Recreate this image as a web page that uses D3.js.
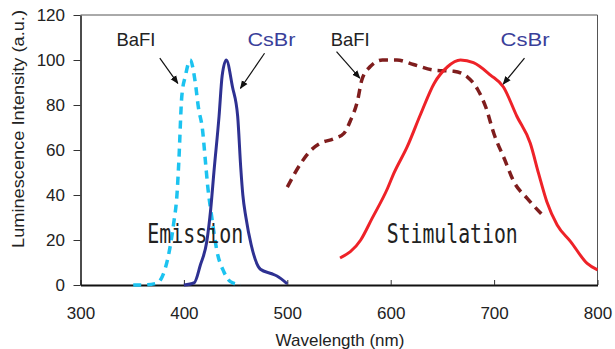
<!DOCTYPE html>
<html>
<head>
<meta charset="utf-8">
<script src="https://cdn.jsdelivr.net/npm/d3@7"></script>
<style>
  body { margin: 0; background: #fff; }
  svg { display: block; }
  .axis text { font-family: "Liberation Sans", Arial, sans-serif; font-size: 17px; fill: #222; }
</style>
</head>
<body>
<div id="chart"></div>
<script>
// emission spectra
var csbrEmWl  = [400, 410, 416, 422, 426, 429, 434, 437, 441, 447, 452, 455, 457, 460, 465, 474, 485, 490, 500];
var csbrEmInt = [0, 1, 9, 19, 34, 50, 75, 93, 100, 88, 75, 52, 40, 30, 18, 7, 5, 4, 0.5];
var bafiEmWl  = [351, 360, 373, 379, 385, 390, 393.5, 395, 398, 401.5, 406, 411, 414, 418, 421, 423, 427, 432, 438.5, 445, 455];
var bafiEmInt = [0, 0, 0.7, 3.7, 13, 27, 41.5, 54, 84, 93, 100, 90, 79, 69, 54, 44, 30, 15, 6, 1.5, 0];

// stimulation spectra
var bafiStWl  = [500, 513, 521, 532, 545, 555, 561, 568, 572, 580, 592, 606, 622, 642, 661, 674, 684, 692, 700, 710, 719, 732, 747];
var bafiStInt = [43.5, 54, 59, 63, 65, 67.5, 73, 82, 91, 97, 100, 100, 98, 95.5, 95, 92.5, 87, 79, 67, 56, 46, 38.5, 31];
var csbrStWl  = [551, 571, 582, 597, 603, 616, 629, 642, 655, 667.5, 680, 696.5, 709, 722, 735, 743, 751, 761, 774, 790, 800];
var csbrStInt = [12, 20, 29.6, 43, 49.6, 61.5, 76, 89.6, 97, 100, 98.8, 93.3, 88, 75, 63, 49.6, 37, 26.7, 19.3, 9.6, 6.7];

var xTicks = [300, 400, 500, 600, 700, 800];
var yTicks = [0, 20, 40, 60, 80, 100, 120];

var width = 615, height = 349;
var margin = {top: 15, right: 17.5, bottom: 64, left: 80.5};

var svg = d3.select('#chart').append('svg')
    .attr('width', width)
    .attr('height', height);

var x = d3.scaleLinear().domain([300, 800]).range([margin.left, width - margin.right]);
var y = d3.scaleLinear().domain([0, 120]).range([height - margin.bottom, margin.top]);

// frame (top + right)
svg.append('path')
    .attr('d', 'M' + x(300) + ',' + y(120) + 'H' + x(800) + 'V' + y(0))
    .attr('fill', 'none')
    .attr('stroke', '#555')
    .attr('stroke-width', 1);

var xAxis = d3.axisBottom(x).tickValues(xTicks).tickSize(-5).tickSizeOuter(0).tickPadding(22);
var yAxis = d3.axisLeft(y).tickValues(yTicks).tickSize(7).tickSizeOuter(0).tickPadding(8.5);

var gx = svg.append('g')
    .attr('class', 'axis')
    .attr('transform', 'translate(0,' + y(0) + ')')
    .call(xAxis);
gx.select('.domain').attr('stroke', '#111').attr('stroke-width', 2);
gx.selectAll('.tick line').attr('stroke', '#333');

var gy = svg.append('g')
    .attr('class', 'axis')
    .attr('transform', 'translate(' + x(300) + ',0)')
    .call(yAxis);
gy.select('.domain').attr('stroke', '#111').attr('stroke-width', 1.5);
gy.selectAll('.tick line').attr('stroke', '#333');

svg.append('text')
    .attr('x', 340).attr('y', 346)
    .attr('text-anchor', 'middle')
    .attr('font-family', '"Liberation Sans", Arial, sans-serif')
    .attr('font-size', 17).attr('fill', '#222')
    .text('Wavelength (nm)');

svg.append('text')
    .attr('transform', 'translate(24,129) rotate(-90)')
    .attr('text-anchor', 'middle')
    .attr('textLength', 238)
    .attr('lengthAdjust', 'spacingAndGlyphs')
    .attr('font-family', '"Liberation Sans", Arial, sans-serif')
    .attr('font-size', 17).attr('fill', '#222')
    .text('Luminescence Intensity (a.u.)');

var line = d3.line()
    .x(function(d) { return x(d[0]); })
    .y(function(d) { return y(d[1]); })
    .curve(d3.curveMonotoneX);

var series = [
    {wl: bafiEmWl, v: bafiEmInt, color: '#1cc3f0', w: 3.5, dash: '8,6'},
    {wl: csbrEmWl, v: csbrEmInt, color: '#2e3192', w: 3, dash: null},
    {wl: bafiStWl, v: bafiStInt, color: '#7f1d1d', w: 3.5, dash: '9,6'},
    {wl: csbrStWl, v: csbrStInt, color: '#ee2228', w: 3, dash: null}
];

series.forEach(function(s) {
    var pts = s.wl.map(function(w, i) { return [w, s.v[i]]; });
    svg.append('path')
        .datum(pts)
        .attr('d', line)
        .attr('fill', 'none')
        .attr('stroke', s.color)
        .attr('stroke-width', s.w)
        .attr('stroke-linejoin', 'round')
        .attr('stroke-dasharray', s.dash);
});

// labels and arrows
var defs = svg.append('defs');
defs.append('marker')
    .attr('id', 'arr')
    .attr('viewBox', '0 0 10 10')
    .attr('refX', 9).attr('refY', 5)
    .attr('markerWidth', 7).attr('markerHeight', 7)
    .attr('orient', 'auto')
  .append('path')
    .attr('d', 'M0,1L10,5L0,9Z')
    .attr('fill', '#111');

var labels = [
    {t: 'BaFI', wl: 353.6, v: 106.2, color: '#222', len: 39},
    {t: 'CsBr', wl: 484.7, v: 106.2, color: '#3a3f9a', len: 48},
    {t: 'BaFI', wl: 560.8, v: 106.2, color: '#222', len: 39},
    {t: 'CsBr', wl: 730, v: 106.2, color: '#3a3f9a', len: 49}
];
labels.forEach(function(l) {
    svg.append('text')
        .attr('x', x(l.wl) - l.len / 2).attr('y', y(l.v))
        .attr('textLength', l.len)
        .attr('lengthAdjust', 'spacingAndGlyphs')
        .attr('font-family', '"Liberation Sans", Arial, sans-serif')
        .attr('font-size', 19).attr('fill', l.color)
        .text(l.t);
});

var arrows = [
    [376.7, 100.8, 394.1, 89.6],
    [478, 103, 454.7, 87.4],
    [547.6, 103.7, 570.1, 91.9],
    [729.4, 100.8, 708.8, 89.3]
];
arrows.forEach(function(a) {
    svg.append('line')
        .attr('x1', x(a[0])).attr('y1', y(a[1]))
        .attr('x2', x(a[2])).attr('y2', y(a[3]))
        .attr('stroke', '#111')
        .attr('stroke-width', 1.2)
        .attr('marker-end', 'url(#arr)');
});

var regions = [
    {t: 'Emission', wl: 410.9, len: 96},
    {t: 'Stimulation', wl: 659.5, len: 131}
];
regions.forEach(function(r) {
    svg.append('text')
        .attr('x', x(r.wl) - r.len / 2).attr('y', y(18.5))
        .attr('textLength', r.len)
        .attr('lengthAdjust', 'spacingAndGlyphs')
        .attr('font-family', '"DejaVu Sans Mono", monospace')
        .attr('font-size', 26).attr('fill', '#222')
        .text(r.t);
});
</script>
</body>
</html>
